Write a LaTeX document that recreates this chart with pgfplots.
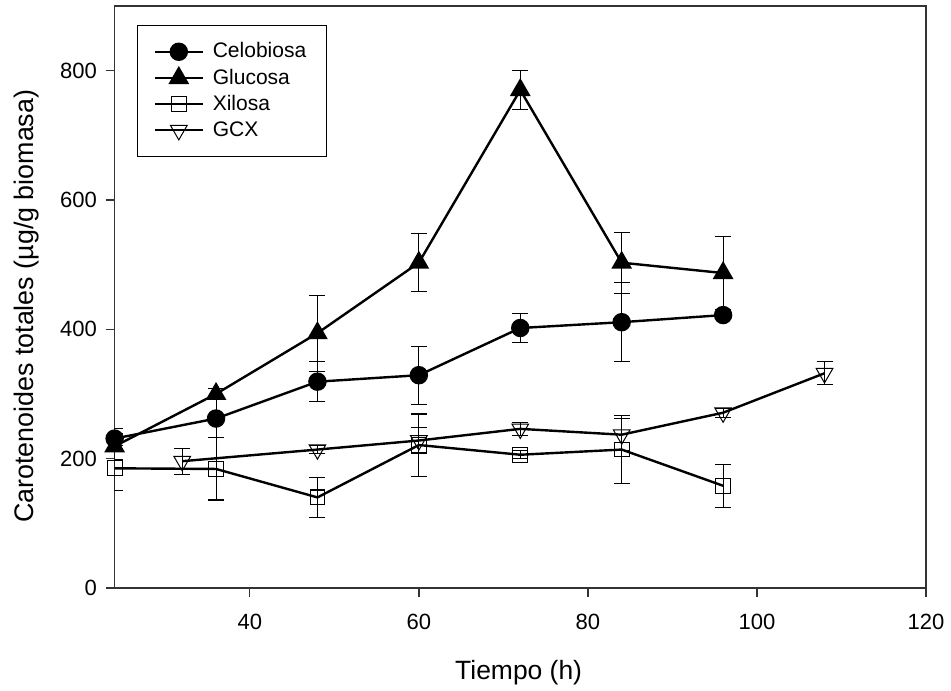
\documentclass[border=0pt]{standalone}
\usepackage{pgfplots}
\pgfplotsset{compat=1.18}
\usepackage{pgfplotstable}
\usepackage{fontspec}
\setmainfont{Liberation Sans}

% tiempo, carotenoides, error
\pgfplotstableread{
x y e
24 231 16
36 262 30
48 319 31
60 329 45
72 402 22
84 411 61
96 422 5
}\celobiosa
\pgfplotstableread{
x y e
24 219 20
36 300 8
48 394 59
60 503 45
72 770 30
84 503 47
96 487 57
}\glucosa
\pgfplotstableread{
x y e
24 185 35
36 184 48
48 140 31
60 221 48
72 206 6
84 214 52
96 158 33
}\xilosa
\pgfplotstableread{
x y e
32 196 20
48 214 6
60 228 20
72 246 10
84 237 25
96 271 7
108 332 18
}\gcx

\begin{document}
\begin{tikzpicture}
\begin{axis}[
  scale only axis,
  width=405pt, height=290.5pt,
  xmin=24, xmax=120, ymin=0, ymax=900,
  xtick={40,60,80,100,120},
  ytick={0,200,400,600,800},
  tick align=outside,
  xtick pos=bottom, ytick pos=left,
  major tick length=4.5pt,
  axis line style={black!80, line width=0.65pt},
  tick style={black!80, line width=0.65pt},
  /pgf/number format/assume math mode=true,
  ticklabel style={font=\fontsize{11}{13}\selectfont},
  xticklabel style={yshift=-4.8pt},
  yticklabel style={xshift=-0.8pt},
  xlabel={Tiempo (h)},
  xlabel style={font=\fontsize{13.2}{15}\selectfont, at={(axis description cs:0.498,0)}, anchor=base, yshift=-45.5pt, inner sep=3pt},
  ylabel={Carotenoides totales (µg/g biomasa)},
  ylabel style={font=\fontsize{13.4}{15}\selectfont, at={(axis description cs:-0.1,0.484)}, anchor=base, inner sep=7pt},
  legend style={at={(0.0284,0.967)}, anchor=north west, draw=black, line width=0.55pt,
    font=\fontsize{10.5}{12.5}\selectfont, row sep=0pt, inner xsep=8pt, inner ysep=6.7pt,
    outer sep=0pt, cells={anchor=west}},
  legend image code/.code={\draw[mark repeat=2,mark phase=2] plot coordinates {(0cm,0cm) (0.42cm,0cm) (0.84cm,0cm)};},
  every axis plot/.append style={black, line width=1.2pt},
  error bars/y dir=both, error bars/y explicit,
  error bars/error mark options={rotate=90, mark size=4pt, line width=0.5pt, black},
  error bars/error bar style={line width=0.5pt, black},
]
\addplot[mark=*, mark size=4pt] table[x=x, y=y, y error=e] {\celobiosa};
\addplot[mark=triangle*, mark size=4.8pt] table[x=x, y=y, y error=e] {\glucosa};
\addplot[mark=square, mark size=3.7pt, mark options={fill=white, line width=0.5pt}] table[x=x, y=y, y error=e] {\xilosa};
\addplot[mark=triangle, mark size=4.8pt, mark options={rotate=180, fill=white, line width=0.5pt}] table[x=x, y=y, y error=e] {\gcx};
\legend{\hspace{2.4pt}Celobiosa, \hspace{2.4pt}Glucosa, \hspace{2.4pt}Xilosa, \hspace{2.4pt}GCX}
\end{axis}
\path ([yshift=3pt]current axis.north);
\end{tikzpicture}
\end{document}
